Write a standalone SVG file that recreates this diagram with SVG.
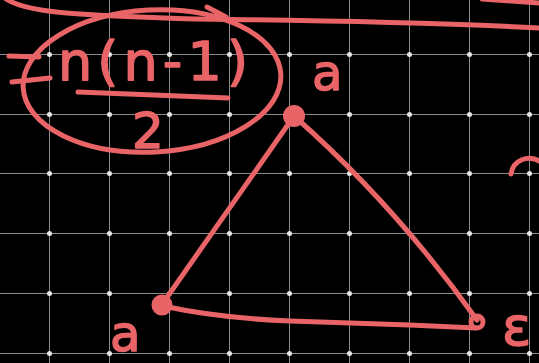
<svg xmlns="http://www.w3.org/2000/svg" width="539" height="363" viewBox="0 0 539 363">
<style>
.grid line{stroke:#8c8c8c;stroke-width:1}
.grid circle{fill:#e6e6e6}
.ink{fill:none;stroke:#E96467;stroke-width:5;stroke-linecap:round;stroke-linejoin:round}
.hand{fill:#E96467;stroke:#E96467;stroke-width:1.5;stroke-linejoin:round;font-family:"DejaVu Sans",sans-serif}
</style>
<rect width="539" height="363" fill="#000"/>
<g class="grid" id="grid">
<line x1="49.5" y1="0" x2="49.5" y2="363"/><line x1="109.5" y1="0" x2="109.5" y2="363"/><line x1="169.5" y1="0" x2="169.5" y2="363"/><line x1="229.5" y1="0" x2="229.5" y2="363"/><line x1="289.5" y1="0" x2="289.5" y2="363"/><line x1="349.5" y1="0" x2="349.5" y2="363"/><line x1="409.5" y1="0" x2="409.5" y2="363"/><line x1="469.5" y1="0" x2="469.5" y2="363"/><line x1="529.5" y1="0" x2="529.5" y2="363"/>
<line x1="0" y1="54.5" x2="539" y2="54.5"/><line x1="0" y1="114.5" x2="539" y2="114.5"/><line x1="0" y1="173.5" x2="539" y2="173.5"/><line x1="0" y1="233.5" x2="539" y2="233.5"/><line x1="0" y1="293.5" x2="539" y2="293.5"/><line x1="0" y1="353.5" x2="539" y2="353.5"/>
<g id="dots">
<circle cx="49.5" cy="54.5" r="2.5"/><circle cx="109.5" cy="54.5" r="2.5"/><circle cx="169.5" cy="54.5" r="2.5"/><circle cx="229.5" cy="54.5" r="2.5"/><circle cx="289.5" cy="54.5" r="2.5"/><circle cx="349.5" cy="54.5" r="2.5"/><circle cx="409.5" cy="54.5" r="2.5"/><circle cx="469.5" cy="54.5" r="2.5"/><circle cx="529.5" cy="54.5" r="2.5"/>
<circle cx="49.5" cy="114.5" r="2.5"/><circle cx="109.5" cy="114.5" r="2.5"/><circle cx="169.5" cy="114.5" r="2.5"/><circle cx="229.5" cy="114.5" r="2.5"/><circle cx="289.5" cy="114.5" r="2.5"/><circle cx="349.5" cy="114.5" r="2.5"/><circle cx="409.5" cy="114.5" r="2.5"/><circle cx="469.5" cy="114.5" r="2.5"/><circle cx="529.5" cy="114.5" r="2.5"/>
<circle cx="49.5" cy="173.5" r="2.5"/><circle cx="109.5" cy="173.5" r="2.5"/><circle cx="169.5" cy="173.5" r="2.5"/><circle cx="229.5" cy="173.5" r="2.5"/><circle cx="289.5" cy="173.5" r="2.5"/><circle cx="349.5" cy="173.5" r="2.5"/><circle cx="409.5" cy="173.5" r="2.5"/><circle cx="469.5" cy="173.5" r="2.5"/><circle cx="529.5" cy="173.5" r="2.5"/>
<circle cx="49.5" cy="233.5" r="2.5"/><circle cx="109.5" cy="233.5" r="2.5"/><circle cx="169.5" cy="233.5" r="2.5"/><circle cx="229.5" cy="233.5" r="2.5"/><circle cx="289.5" cy="233.5" r="2.5"/><circle cx="349.5" cy="233.5" r="2.5"/><circle cx="409.5" cy="233.5" r="2.5"/><circle cx="469.5" cy="233.5" r="2.5"/><circle cx="529.5" cy="233.5" r="2.5"/>
<circle cx="49.5" cy="293.5" r="2.5"/><circle cx="109.5" cy="293.5" r="2.5"/><circle cx="169.5" cy="293.5" r="2.5"/><circle cx="229.5" cy="293.5" r="2.5"/><circle cx="289.5" cy="293.5" r="2.5"/><circle cx="349.5" cy="293.5" r="2.5"/><circle cx="409.5" cy="293.5" r="2.5"/><circle cx="469.5" cy="293.5" r="2.5"/><circle cx="529.5" cy="293.5" r="2.5"/>
<circle cx="49.5" cy="353.5" r="2.5"/><circle cx="109.5" cy="353.5" r="2.5"/><circle cx="169.5" cy="353.5" r="2.5"/><circle cx="229.5" cy="353.5" r="2.5"/><circle cx="289.5" cy="353.5" r="2.5"/><circle cx="349.5" cy="353.5" r="2.5"/><circle cx="409.5" cy="353.5" r="2.5"/><circle cx="469.5" cy="353.5" r="2.5"/><circle cx="529.5" cy="353.5" r="2.5"/>
</g>
</g>
<g id="top-stroke">
<path class="ink" d="M6,-1 C20,8 45,12 80,14 C130,17 170,19 230,19.5 C320,20.5 420,22 540,28"/>
<path class="ink" d="M207,7 L226,17"/>
<path class="ink" d="M482,-1 L540,3"/>
</g>
<g id="formula">
<path class="ink" d="M9,56 L39,57 M12,82 L50,78"/>
<ellipse class="ink" cx="152" cy="81" rx="129" ry="71" transform="rotate(-3 152 81)"/>
<text class="hand" x="58" y="80" font-size="54" textLength="190" lengthAdjust="spacing">n(n-1)</text>
<path class="ink" d="M78,92 C120,94 180,96 228,98"/>
<text class="hand" x="148" y="148" font-size="50" text-anchor="middle">2</text>
</g>
<g id="connectors">
<path class="ink" d="M294,116 L163,303"/>
<path class="ink" d="M294,116 Q395,205 477,320"/>
<path class="ink" d="M163,306 C200,314 240,319 290,321 L410,325 L476,328"/>
</g>
<g id="node-top">
<circle cx="294" cy="116" r="11" fill="#E96467"/>
<text class="hand" x="312" y="90" font-size="50">a</text>
</g>
<g id="node-left">
<circle cx="162" cy="305" r="10.5" fill="#E96467"/>
<text class="hand" x="110" y="351" font-size="50">a</text>
</g>
<g id="node-right">
<circle class="ink" cx="477" cy="322" r="6"/>
<text class="hand" x="502" y="345" font-size="54">ε</text>
</g>
<g id="edge-mark">
<path class="ink" d="M511,174 C513,160 528,154 541,162"/>
</g>
</svg>
